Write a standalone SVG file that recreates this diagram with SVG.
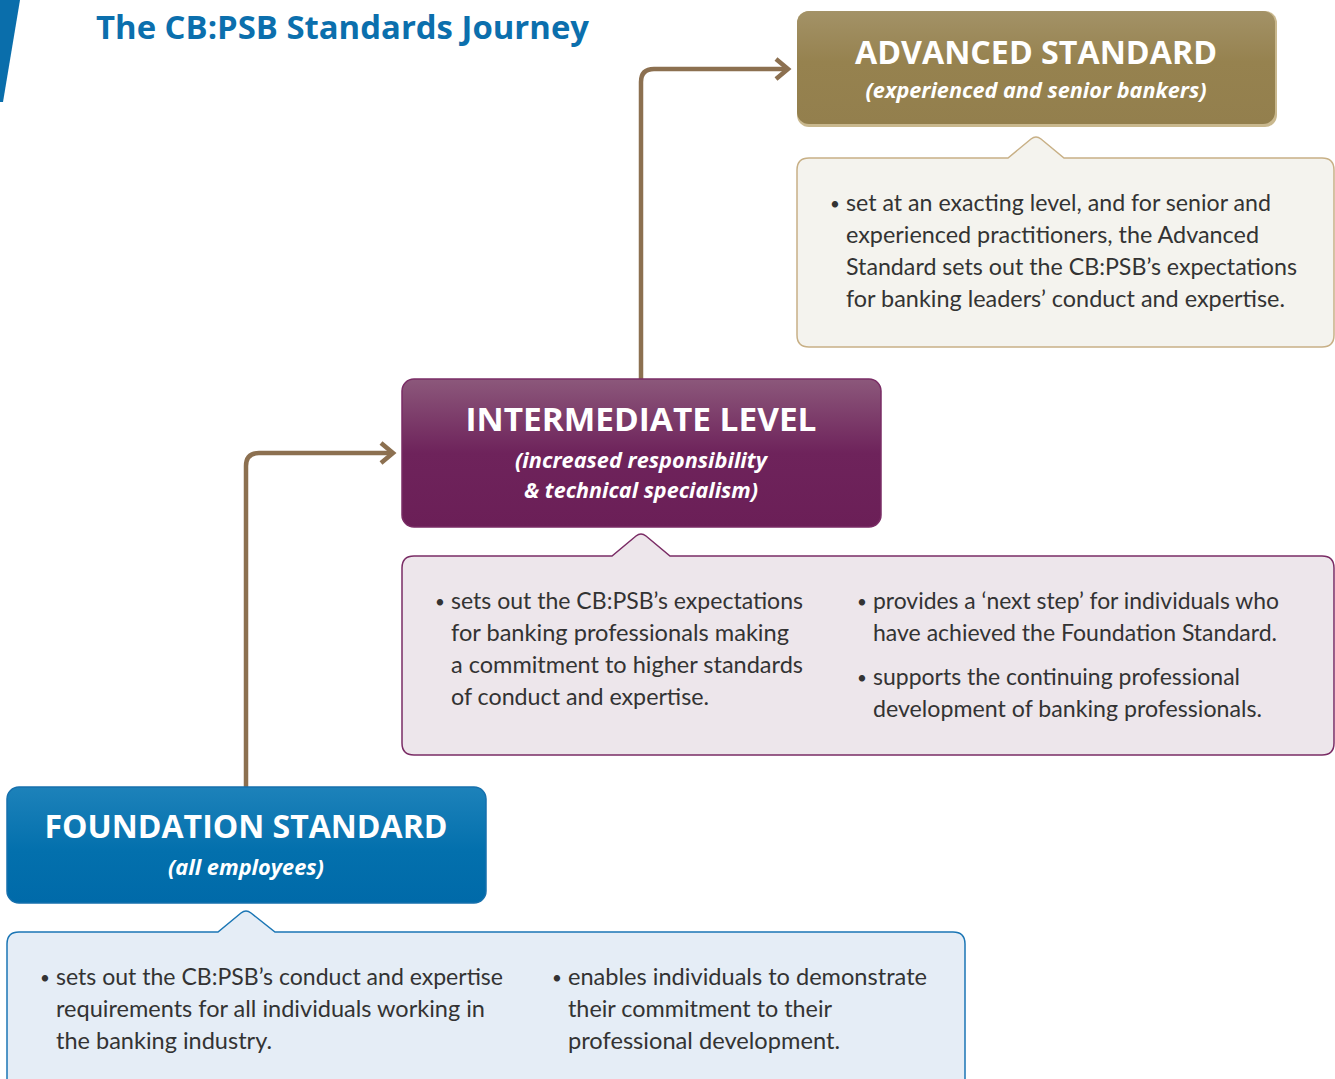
<svg xmlns="http://www.w3.org/2000/svg" width="1335" height="1079" viewBox="0 0 1335 1079">
  <defs>
    <linearGradient id="gAdv" x1="0" y1="0" x2="0" y2="1">
      <stop offset="0" stop-color="#a39267"/>
      <stop offset="0.45" stop-color="#96824f"/>
      <stop offset="1" stop-color="#937f4d"/>
    </linearGradient>
    <linearGradient id="gInt" x1="0" y1="0" x2="0" y2="1">
      <stop offset="0" stop-color="#8c587b"/>
      <stop offset="0.5" stop-color="#6e235b"/>
      <stop offset="1" stop-color="#6b1f57"/>
    </linearGradient>
    <linearGradient id="gFnd" x1="0" y1="0" x2="0" y2="1">
      <stop offset="0" stop-color="#1d82ba"/>
      <stop offset="0.55" stop-color="#0370ad"/>
      <stop offset="1" stop-color="#006aa9"/>
    </linearGradient>
    <marker id="chev" viewBox="0 0 20 24" refX="16" refY="12" markerWidth="20" markerHeight="24" markerUnits="userSpaceOnUse" orient="auto">
      <path d="M4,2 L16,12 L4,22" fill="none" stroke="#8c7050" stroke-width="4.5"/>
    </marker>
  </defs>
  <style>
    .title { font-family: "Open Sans", "Noto Sans", sans-serif; font-weight: 700; fill: #0b6fad; }
    .head { font-family: "Open Sans", "Noto Sans", sans-serif; font-weight: 700; fill: #ffffff; text-anchor: middle; }
    .sub { font-family: "Open Sans", "Noto Sans", sans-serif; font-weight: 700; font-style: italic; fill: #ffffff; text-anchor: middle; }
    .body { font-family: "Lato", "Noto Sans", sans-serif; font-size: 23px; fill: #333333; }
    .dot { font-family: "Lato", "Noto Sans", sans-serif; font-size: 17px; fill: #333333; }
    .wire { fill: none; stroke: #8c7050; stroke-width: 4.5; marker-end: url(#chev); }
  </style>

  <!-- page corner accent -->
  <polygon points="0,0 20,0 3,102 0,102" fill="#0a6eab"/>

  <text class="title" x="96" y="39" font-size="32" textLength="493" lengthAdjust="spacingAndGlyphs">The CB:PSB Standards Journey</text>

  <g id="connectors">
    <path class="wire" d="M246,787 V466 Q246,453 259,453 H393"/>
    <path class="wire" d="M641,379 V82 Q641,69 654,69 H788"/>
  </g>

  <g id="advanced">
    <rect x="797" y="11" width="480" height="116" rx="12" fill="#c9b88e"/>
    <rect x="797" y="11" width="478" height="113" rx="12" fill="url(#gAdv)"/>
    <text class="head" x="1036" y="64" font-size="33" textLength="362" lengthAdjust="spacingAndGlyphs">ADVANCED STANDARD</text>
    <text class="sub" x="1036" y="98" font-size="22" textLength="341" lengthAdjust="spacingAndGlyphs">(experienced and senior bankers)</text>
  </g>

  <g id="advanced-notes">
    <path d="M809,158 H1008 L1031,139 Q1036,135 1041,139 L1064,158 H1322 Q1334,158 1334,170 V335 Q1334,347 1322,347 H809 Q797,347 797,335 V170 Q797,158 809,158 Z" fill="#f4f3ee" stroke="#c8b086" stroke-width="1.5"/>
    <text class="dot" x="830" y="210">•</text>
    <text class="body" x="846" y="211" textLength="425" lengthAdjust="spacingAndGlyphs">set at an exacting level, and for senior and</text>
    <text class="body" x="846" y="243" textLength="413" lengthAdjust="spacingAndGlyphs">experienced practitioners, the Advanced</text>
    <text class="body" x="846" y="275" textLength="451" lengthAdjust="spacingAndGlyphs">Standard sets out the CB:PSB’s expectations</text>
    <text class="body" x="846" y="307" textLength="439" lengthAdjust="spacingAndGlyphs">for banking leaders’ conduct and expertise.</text>
  </g>

  <g id="intermediate">
    <rect x="402" y="379" width="479" height="148" rx="12" fill="url(#gInt)" stroke="#7a2c65" stroke-width="1.5"/>
    <text class="head" x="641" y="431" font-size="33" textLength="351" lengthAdjust="spacingAndGlyphs">INTERMEDIATE LEVEL</text>
    <text class="sub" x="641" y="468" font-size="22" textLength="252" lengthAdjust="spacingAndGlyphs">(increased responsibility</text>
    <text class="sub" x="641" y="498" font-size="22" textLength="234" lengthAdjust="spacingAndGlyphs">&amp; technical specialism)</text>
  </g>

  <g id="intermediate-notes">
    <path d="M414,556 H612 L636,536 Q641,532 646,536 L670,556 H1322 Q1334,556 1334,568 V743 Q1334,755 1322,755 H414 Q402,755 402,743 V568 Q402,556 414,556 Z" fill="#ede6eb" stroke="#7a2c65" stroke-width="1.5"/>
    <text class="dot" x="435" y="608">•</text>
    <text class="body" x="451" y="609" textLength="352" lengthAdjust="spacingAndGlyphs">sets out the CB:PSB’s expectations</text>
    <text class="body" x="451" y="641" textLength="338" lengthAdjust="spacingAndGlyphs">for banking professionals making</text>
    <text class="body" x="451" y="673" textLength="352" lengthAdjust="spacingAndGlyphs">a commitment to higher standards</text>
    <text class="body" x="451" y="705" textLength="258" lengthAdjust="spacingAndGlyphs">of conduct and expertise.</text>
    <text class="dot" x="857" y="608">•</text>
    <text class="body" x="873" y="609" textLength="406" lengthAdjust="spacingAndGlyphs">provides a ‘next step’ for individuals who</text>
    <text class="body" x="873" y="641" textLength="404" lengthAdjust="spacingAndGlyphs">have achieved the Foundation Standard.</text>
    <text class="dot" x="857" y="684">•</text>
    <text class="body" x="873" y="685" textLength="367" lengthAdjust="spacingAndGlyphs">supports the continuing professional</text>
    <text class="body" x="873" y="717" textLength="389" lengthAdjust="spacingAndGlyphs">development of banking professionals.</text>
  </g>

  <g id="foundation">
    <rect x="7" y="787" width="479" height="116" rx="12" fill="url(#gFnd)" stroke="#1670ad" stroke-width="1.5"/>
    <text class="head" x="246" y="838" font-size="33" textLength="403" lengthAdjust="spacingAndGlyphs">FOUNDATION STANDARD</text>
    <text class="sub" x="246" y="875" font-size="22" textLength="156" lengthAdjust="spacingAndGlyphs">(all employees)</text>
  </g>

  <g id="foundation-notes">
    <path d="M19,932 H218 L241,913 Q246,909 251,913 L275,932 H953 Q965,932 965,944 V1090 H7 V944 Q7,932 19,932 Z" fill="#e5edf6" stroke="#1b76b5" stroke-width="1.5"/>
    <text class="dot" x="40" y="984">•</text>
    <text class="body" x="56" y="985" textLength="447" lengthAdjust="spacingAndGlyphs">sets out the CB:PSB’s conduct and expertise</text>
    <text class="body" x="56" y="1017" textLength="429" lengthAdjust="spacingAndGlyphs">requirements for all individuals working in</text>
    <text class="body" x="56" y="1049" textLength="216" lengthAdjust="spacingAndGlyphs">the banking industry.</text>
    <text class="dot" x="552" y="984">•</text>
    <text class="body" x="568" y="985" textLength="359" lengthAdjust="spacingAndGlyphs">enables individuals to demonstrate</text>
    <text class="body" x="568" y="1017" textLength="264" lengthAdjust="spacingAndGlyphs">their commitment to their</text>
    <text class="body" x="568" y="1049" textLength="272" lengthAdjust="spacingAndGlyphs">professional development.</text>
  </g>
</svg>
